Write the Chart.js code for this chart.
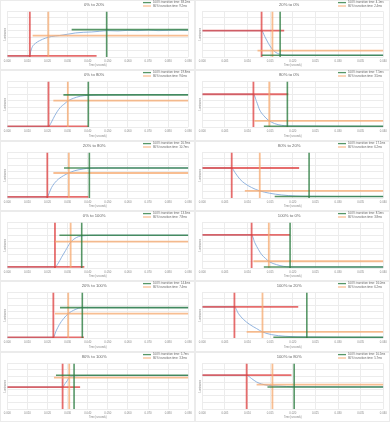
<!DOCTYPE html>
<html><head><meta charset="utf-8">
<script src="https://cdn.jsdelivr.net/npm/chart.js@4.4.1/dist/chart.umd.min.js"></script>
<style>
html,body{margin:0;padding:0;background:#fff;}
#grid{position:relative;width:390px;height:422px;overflow:hidden;}
.panel{position:absolute;width:195px;box-shadow:inset 0 0 0 1px #ebebeb;}
canvas{display:block;}
</style></head><body><div id="grid"></div>
<script>
// ---- data ----
const titles = ["0% to 20%", "20% to 0%", "0% to 80%", "80% to 0%", "20% to 80%", "80% to 20%",
  "0% to 100%", "100% to 0%", "20% to 100%", "100% to 20%", "80% to 100%", "100% to 80%"];
const ms100 = [38.2, 4.1, 19.8, 7.5, 20.9, 17.1, 13.3, 8.5, 14.4, 16.0, 5.7, 10.5];
const ms80 = [9.2, 2.4, 9.6, 3.5, 10.7, 6.2, 7.8, 3.8, 7.4, 6.2, 3.3, 5.7];
const xMax = [0.09, 0.04, 0.09, 0.04, 0.09, 0.04, 0.09, 0.04, 0.09, 0.04, 0.09, 0.04];
const xStep = [0.01, 0.005, 0.01, 0.005, 0.01, 0.005, 0.01, 0.005, 0.01, 0.005, 0.01, 0.005];
const tStart = [0.0112, 0.0131, 0.0205, 0.0113, 0.0199, 0.0065, 0.0237, 0.0109, 0.0229, 0.0071, 0.0275, 0.0098];
const t80 = [0.0204, 0.0155, 0.0301, 0.0148, 0.0306, 0.0127, 0.0315, 0.0147, 0.0303, 0.0133, 0.0308, 0.0155];
const t100 = [0.0494, 0.0172, 0.0403, 0.0188, 0.0408, 0.0236, 0.0370, 0.0194, 0.0373, 0.0231, 0.0332, 0.0203];
const levelStart = [1.6, 40.4, 1.0, 50.3, 1.6, 46.1, 1.6, 50.8, 1.0, 47.7, 33.7, 51.9];
const level80 = [32.7, 9.9, 40.4, 9.3, 38.4, 10.9, 40.4, 10.4, 37.3, 9.3, 48.2, 37.3];
const levelFinal = [42.0, 2.6, 49.3, 1.0, 46.1, 2.3, 50.3, 1.6, 46.7, 1.0, 51.9, 33.7];
const redEnd = [0.0444, 0.0181, 0.0403, 0.0190, 0.0403, 0.0214, 0.0383, 0.0194, 0.0381, 0.0212, 0.0362, 0.0197];
const orangeFrom = [0.0126, 0.0122, 0.0229, 0.0115, 0.0229, 0.0094, 0.0237, 0.0113, 0.0237, 0.0098, 0.0232, 0.0120];
const greenFrom = [0.0320, 0.0131, 0.0279, 0.0136, 0.0282, 0.0160, 0.0259, 0.0136, 0.0262, 0.0157, 0.0242, 0.0144];
const curveT = [
  [0, 0.0112, 0.0116, 0.0125, 0.014, 0.016, 0.019, 0.022, 0.026, 0.030, 0.034, 0.038, 0.042, 0.046, 0.050, 0.055, 0.060, 0.065, 0.070, 0.075, 0.080, 0.085, 0.090],
  [0, 0.0131, 0.0138, 0.0146, 0.0153, 0.016, 0.0172, 0.0183, 0.025, 0.04],
  [0, 0.0205, 0.022, 0.0237, 0.0262, 0.0287, 0.0303, 0.0328, 0.0362, 0.0403, 0.05, 0.06, 0.07, 0.08, 0.09],
  [0, 0.0113, 0.012, 0.0127, 0.0135, 0.0146, 0.016, 0.0175, 0.019, 0.04],
  [0, 0.0199, 0.0209, 0.022, 0.0245, 0.0279, 0.0306, 0.0336, 0.0378, 0.0408, 0.05, 0.07, 0.09],
  [0, 0.0065, 0.0072, 0.0083, 0.0094, 0.0109, 0.0127, 0.0149, 0.0175, 0.0205, 0.0236, 0.03, 0.04],
  [0, 0.0237, 0.0254, 0.027, 0.029, 0.0312, 0.0337, 0.037, 0.045, 0.09],
  [0, 0.0109, 0.0116, 0.0124, 0.0131, 0.014, 0.0149, 0.0164, 0.0179, 0.0194, 0.04],
  [0, 0.0229, 0.0242, 0.0259, 0.0279, 0.0303, 0.0337, 0.0373, 0.05, 0.09],
  [0, 0.0071, 0.008, 0.0091, 0.0105, 0.012, 0.0133, 0.0153, 0.0183, 0.0231, 0.04],
  [0, 0.0275, 0.0287, 0.0299, 0.0308, 0.0332, 0.04, 0.09],
  [0, 0.0098, 0.0109, 0.012, 0.0131, 0.0146, 0.0168, 0.0203, 0.04]
];
const curveY = [
  [1.6, 1.6, 8, 16, 21, 25, 29, 31.5, 33, 35, 37, 38, 38.5, 39.5, 40.5, 40, 41, 40.5, 41.5, 40.5, 41, 41.5, 41],
  [40.4, 40.4, 31.6, 21, 13.5, 8.3, 4, 2.6, 2.6, 2.6],
  [1, 1, 7.8, 18, 29.5, 36.3, 40.4, 44, 47.2, 48.7, 49.3, 49.5, 49.8, 49.6, 49.8],
  [50.3, 50.3, 38.9, 25.9, 18.1, 10.4, 5.2, 2.6, 1.6, 1.0],
  [1.6, 1.6, 8.3, 16, 26.4, 34.2, 38.4, 42, 44.6, 45.8, 46.1, 46.1, 46.1],
  [46.1, 46.1, 39.4, 29, 22.3, 16.1, 10.9, 7.3, 4.7, 3.1, 2.6, 2.3, 2.3],
  [1.6, 1.6, 7.8, 16.6, 27, 38.4, 45.6, 49.3, 50.3, 50.3],
  [50.8, 50.8, 38.9, 28.5, 20.7, 14.5, 9.3, 5.2, 2.6, 1.6, 1.6],
  [1, 1, 10.4, 20.7, 29.5, 37.3, 43.6, 46.7, 46.7, 46.7],
  [47.7, 47.7, 37.3, 28.5, 20.7, 14.5, 9.3, 5.2, 2.6, 1.6, 1.0],
  [33.7, 33.7, 38.9, 44, 48.2, 50.8, 51.5, 51.5],
  [51.9, 51.9, 46.7, 41.5, 38.4, 36.3, 35.3, 34.2, 33.9]
];
const yMax = 70, yStep = 10;

// ---- styles ----
const FONT = "'Liberation Sans', Arial, sans-serif";
const RED = 'rgba(222,60,60,0.75)';
const ORANGE = 'rgba(246,168,110,0.75)';
const GREEN = 'rgba(45,125,65,0.8)';
const BLUE = '#86acdb';
const GRID = '#ececec';

const legendPlugin = {
  id: 'transitionLegend',
  afterDraw(chart, args, opts) {
    const ctx = chart.ctx;
    ctx.save();
    ctx.font = '2.9px ' + FONT;
    ctx.textBaseline = 'middle';
    ctx.textAlign = 'left';
    const rows = [[GREEN, opts.text100, 2.6], [ORANGE, opts.text80, 6.0]];
    rows.forEach(([c, t, y]) => {
      ctx.strokeStyle = c;
      ctx.lineWidth = 1.3;
      ctx.beginPath();
      ctx.moveTo(143, y);
      ctx.lineTo(151, y);
      ctx.stroke();
      ctx.fillStyle = '#666';
      ctx.fillText(t, 153, y);
    });
    ctx.restore();
  }
};

const grid = document.getElementById('grid');
titles.forEach((title, i) => {
  const row = Math.floor(i / 2), col = i % 2;
  const top = Math.round(row * 422 / 6);
  const h = Math.round((row + 1) * 422 / 6) - top;
  const div = document.createElement('div');
  div.className = 'panel';
  div.style.left = (col * 195) + 'px';
  div.style.top = top + 'px';
  div.style.height = h + 'px';
  const cv = document.createElement('canvas');
  cv.width = 195; cv.height = h;
  cv.style.width = '195px'; cv.style.height = h + 'px';
  div.appendChild(cv);
  grid.appendChild(div);

  const seg = (c, w, pts) => ({
    data: pts, borderColor: c, borderWidth: w, pointRadius: 0, tension: 0, fill: false
  });
  const blue = curveT[i].map((t, k) => ({ x: t, y: curveY[i][k] }));

  new Chart(cv, {
    type: 'line',
    data: {
      datasets: [
        seg(GREEN, 1.6, [{ x: t100[i], y: 0 }, { x: t100[i], y: yMax }]),
        seg(GREEN, 1.6, [{ x: greenFrom[i], y: levelFinal[i] }, { x: xMax[i], y: levelFinal[i] }]),
        seg(ORANGE, 1.8, [{ x: t80[i], y: 0 }, { x: t80[i], y: yMax }]),
        seg(ORANGE, 1.8, [{ x: orangeFrom[i], y: level80[i] }, { x: xMax[i], y: level80[i] }]),
        seg(RED, 1.8, [{ x: tStart[i], y: 0 }, { x: tStart[i], y: yMax }]),
        seg(RED, 1.8, [{ x: 0, y: levelStart[i] }, { x: redEnd[i], y: levelStart[i] }]),
        { data: blue, borderColor: BLUE, borderWidth: 0.9, pointRadius: 0, cubicInterpolationMode: 'monotone', fill: false }
      ]
    },
    options: {
      responsive: false,
      animation: false,
      events: [],
      layout: { padding: { top: 0, left: 0, right: 6.7, bottom: 0 } },
      plugins: {
        legend: { display: false },
        tooltip: { enabled: false },
        title: {
          display: true, text: title, color: '#666',
          font: { family: FONT, size: 4.2, weight: 'normal' },
          padding: { top: 2.6, bottom: 3.8 }
        },
        transitionLegend: {
          text100: '100% transition time: ' + ms100[i].toFixed(1) + 'ms',
          text80: '80% transition time: ' + ms80[i].toFixed(1) + 'ms'
        }
      },
      scales: {
        x: {
          type: 'linear', min: 0, max: xMax[i],
          ticks: {
            stepSize: xStep[i], autoSkip: false, maxRotation: 0, padding: 2.5,
            color: '#888', font: { family: FONT, size: 2.8 },
            callback: v => Number(v).toFixed(3)
          },
          grid: { color: GRID, drawTicks: false },
          border: { display: false },
          title: {
            display: true, text: 'Time (seconds)', color: '#888',
            font: { family: FONT, size: 2.6 }, padding: { top: 0, bottom: 3 }
          },
          afterFit: s => { s.height = h - 57; }
        },
        y: {
          min: 0, max: yMax,
          ticks: { display: false, stepSize: yStep },
          grid: { color: GRID, drawTicks: false },
          border: { display: false },
          title: {
            display: true, text: 'Luminance', color: '#888',
            font: { family: FONT, size: 2.6 }, padding: { top: 4, bottom: 0 }
          },
          afterFit: s => { s.width = 7.3; }
        }
      }
    },
    plugins: [legendPlugin]
  });
});
</script>
</body></html>
